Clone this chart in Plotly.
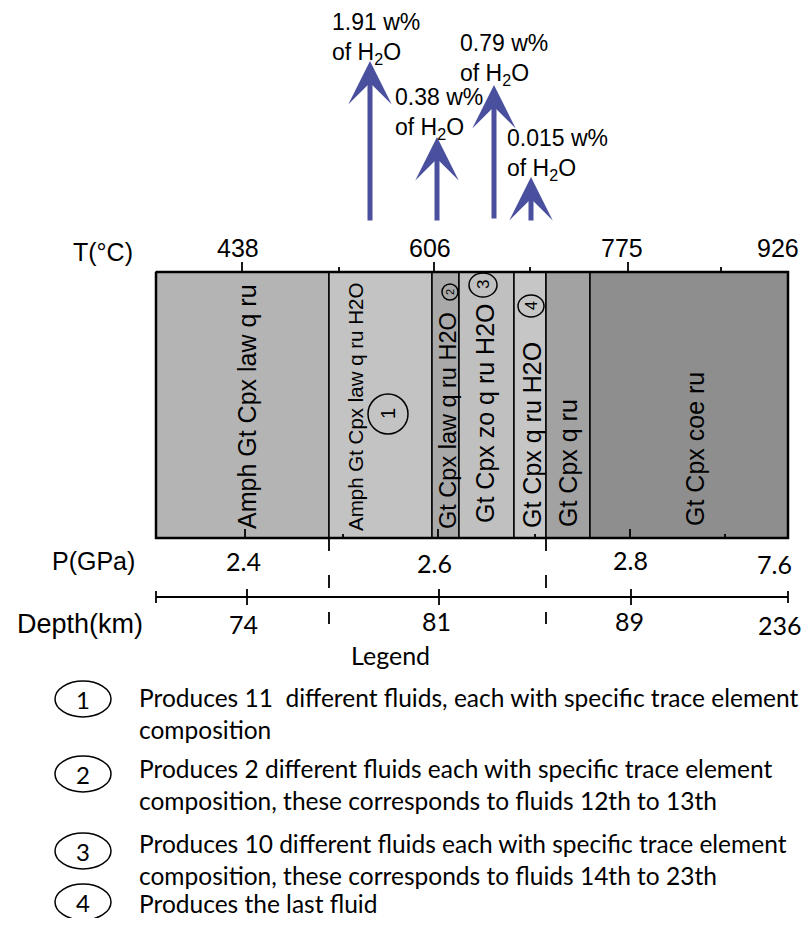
import plotly.graph_objects as go

ARIAL = "Liberation Sans, Arial, sans-serif"
MYRIAD = "Lato, Liberation Sans Narrow, sans-serif"

# phase fields along the path, left to right (x edges in px of the 810x926 sheet)
band_edges = [156, 329, 432, 459, 514, 546, 590, 788]
band_colors = ['#b4b4b4', '#c3c3c3', '#a9a9a9', '#c0c0c0', '#c6c6c6', '#a2a2a2', '#8e8e8e']
band_labels = ['Amph Gt Cpx law q ru', 'Amph Gt Cpx law q ru H2O', 'Gt Cpx law q ru H2O',
               'Gt Cpx zo q ru H2O', 'Gt Cpx q ru H2O', 'Gt Cpx q ru', 'Gt Cpx coe ru']
label_x = [247, 355, 448, 485, 532, 568, 695]
label_y = [407, 407, 421, 413, 435, 463, 449]
label_size = [25, 20.5, 23.5, 25, 25, 25, 25]
box_top, box_bottom = 272, 538

# circled reaction numbers inside the fields
mark_num = ['1', '2', '3', '4']
mark_x = [388, 450, 483, 531]
mark_y = [414, 292, 285, 306]
mark_rx = [20, 8, 14, 13]
mark_ry = [20, 8, 12, 11]
mark_size = [20, 11, 17, 16]

# temperature scale on top
T_labels = ['438', '606', '775', '926']
T_label_x = [238, 430, 622, 778]
T_major = [242, 434, 628]
T_minor = [339, 530, 721]

# pressure under the box
P_labels = ['2.4', '2.6', '2.8', '7.6']
P_x = [243, 434, 630, 774]
P_y = [561, 563, 560, 564]
P_major = [245, 438, 630]
P_minor = [343, 535, 725]

# depth scale
depth_labels = ['74', '81', '89', '236']
depth_x = [243, 436, 629, 780]
depth_y = [624, 621, 621, 625]
depth_ticks = [247, 439, 631]
depth_line_y = 597

dash_x = [329, 546]

# water released at each step
h2o = ['1.91', '0.38', '0.79', '0.015']
arrow_x = [370, 437, 494, 531]
arrow_tip = [61, 137, 85, 177]
arrow_base = [222, 222, 220, 222]
h2o_x = [330, 393, 458, 505]
h2o_y = [38, 113, 59, 154]

legend_num = ['1', '2', '3', '4']
legend_text = [
    ['Produces 11  different fluids, each with specific trace element', 'composition'],
    ['Produces 2 different fluids each with specific trace element',
     'composition, these corresponds to fluids 12th to 13th'],
    ['Produces 10 different fluids each with specific trace element',
     'composition, these corresponds to fluids 14th to 23th'],
    ['Produces the last fluid'],
]
legend_y = [697, 768, 843, 903]
legend_circle_y = [699, 774, 851, 902]
legend_cx = 83
legend_text_x = 137
line_gap = 32

fig = go.Figure()

# fields
centers = [(band_edges[i] + band_edges[i + 1]) / 2 for i in range(len(band_labels))]
widths = [band_edges[i + 1] - band_edges[i] for i in range(len(band_labels))]
fig.add_trace(go.Bar(x=centers, y=[box_bottom - box_top] * len(centers), base=box_top,
                     width=widths, marker=dict(color=band_colors, line=dict(color='black', width=1.5)),
                     hoverinfo='skip'))

# outer frame
x0, x1 = band_edges[0], band_edges[-1]
fig.add_trace(go.Scatter(x=[x0, x1, x1, x0, x0], y=[box_top, box_top, box_bottom, box_bottom, box_top],
                         mode='lines', line=dict(color='black', width=2.5), hoverinfo='skip'))

# tick marks
tx, ty = [], []
for v in T_major:
    tx += [v, v, None]; ty += [box_top - 10, box_top, None]
for v in T_minor:
    tx += [v, v, None]; ty += [box_top - 5, box_top, None]
for v in P_major:
    tx += [v, v, None]; ty += [box_bottom - 9, box_bottom, None]
for v in P_minor:
    tx += [v, v, None]; ty += [box_bottom - 4, box_bottom, None]
for v in depth_ticks:
    tx += [v, v, None]; ty += [depth_line_y - 8, depth_line_y + 8, None]
for v in [x0, x1]:
    tx += [v, v, None]; ty += [depth_line_y - 6, depth_line_y + 6, None]
tx += [x0, x1]; ty += [depth_line_y, depth_line_y]
fig.add_trace(go.Scatter(x=tx, y=ty, mode='lines', line=dict(color='black', width=1.8),
                         hoverinfo='skip'))

for d in dash_x:
    fig.add_trace(go.Scatter(x=[d, d], y=[box_bottom, 624], mode='lines',
                             line=dict(color='black', width=1.8, dash='13px,24px'), hoverinfo='skip'))

ann = []
for t, x, y, s in zip(band_labels, label_x, label_y, label_size):
    ann.append(dict(x=x, y=y, text=t, textangle=-90, showarrow=False,
                    font=dict(family=ARIAL, size=s, color='black')))

shapes = []
for n, x, y, rx, ry, s in zip(mark_num, mark_x, mark_y, mark_rx, mark_ry, mark_size):
    shapes.append(dict(type='circle', xref='x', yref='y', x0=x - rx, x1=x + rx, y0=y - ry, y1=y + ry,
                       line=dict(color='black', width=1.5)))
    ann.append(dict(x=x, y=y, text=n, textangle=-90, showarrow=False,
                    font=dict(family=ARIAL, size=s, color='black')))

ann.append(dict(x=135, y=252, text='T(°C)', xanchor='right', showarrow=False,
                font=dict(family=ARIAL, size=25, color='black')))
for t, x in zip(T_labels, T_label_x):
    ann.append(dict(x=x, y=248, text=t, showarrow=False, font=dict(family=ARIAL, size=25, color='black')))

ann.append(dict(x=137, y=561, text='P(GPa)', xanchor='right', showarrow=False,
                font=dict(family=ARIAL, size=25, color='black')))
for t, x, y in zip(P_labels, P_x, P_y):
    ann.append(dict(x=x, y=y, text=t, showarrow=False, font=dict(family=MYRIAD, size=25, color='black')))

ann.append(dict(x=145, y=624, text='Depth(km)', xanchor='right', showarrow=False,
                font=dict(family=ARIAL, size=27, color='black')))
for t, x, y in zip(depth_labels, depth_x, depth_y):
    ann.append(dict(x=x, y=y, text=t, showarrow=False, font=dict(family=MYRIAD, size=25, color='black')))

for w, ax_, tip, base, lx, ly in zip(h2o, arrow_x, arrow_tip, arrow_base, h2o_x, h2o_y):
    ann.append(dict(x=ax_, y=tip, ax=ax_, ay=base, xref='x', yref='y', axref='x', ayref='y',
                    text='', showarrow=True, arrowhead=3, arrowsize=1.45, arrowwidth=5,
                    arrowcolor='#4a4f9e'))
    ann.append(dict(x=lx, y=ly, text=w + ' w%<br>of H<sub>2</sub>O', xanchor='left', align='left',
                    showarrow=False, font=dict(family=ARIAL, size=23, color='black')))

ann.append(dict(x=390, y=655, text='Legend', showarrow=False,
                font=dict(family=MYRIAD, size=25, color='black')))
for n, lines, y, cy in zip(legend_num, legend_text, legend_y, legend_circle_y):
    shapes.append(dict(type='circle', xref='x', yref='y', x0=legend_cx - 28, x1=legend_cx + 28,
                       y0=cy - 18, y1=cy + 18, line=dict(color='black', width=1.5)))
    ann.append(dict(x=legend_cx, y=cy, text=n, showarrow=False,
                    font=dict(family=MYRIAD, size=24, color='black')))
    for k, line in enumerate(lines):
        ann.append(dict(x=legend_text_x, y=y + k * line_gap, text=line, xanchor='left',
                        showarrow=False, font=dict(family=MYRIAD, size=24.5, color='black')))

# page body keeps an 8px margin, so the figure is shrunk and the ranges start at 8
fig.update_layout(width=794, height=910, margin=dict(l=0, r=0, t=0, b=0),
                  plot_bgcolor='white', paper_bgcolor='white', showlegend=False,
                  xaxis=dict(range=[8, 802], visible=False, fixedrange=True),
                  yaxis=dict(range=[918, 8], visible=False, fixedrange=True),
                  annotations=ann, shapes=shapes)

fig.write_html("out.html")
